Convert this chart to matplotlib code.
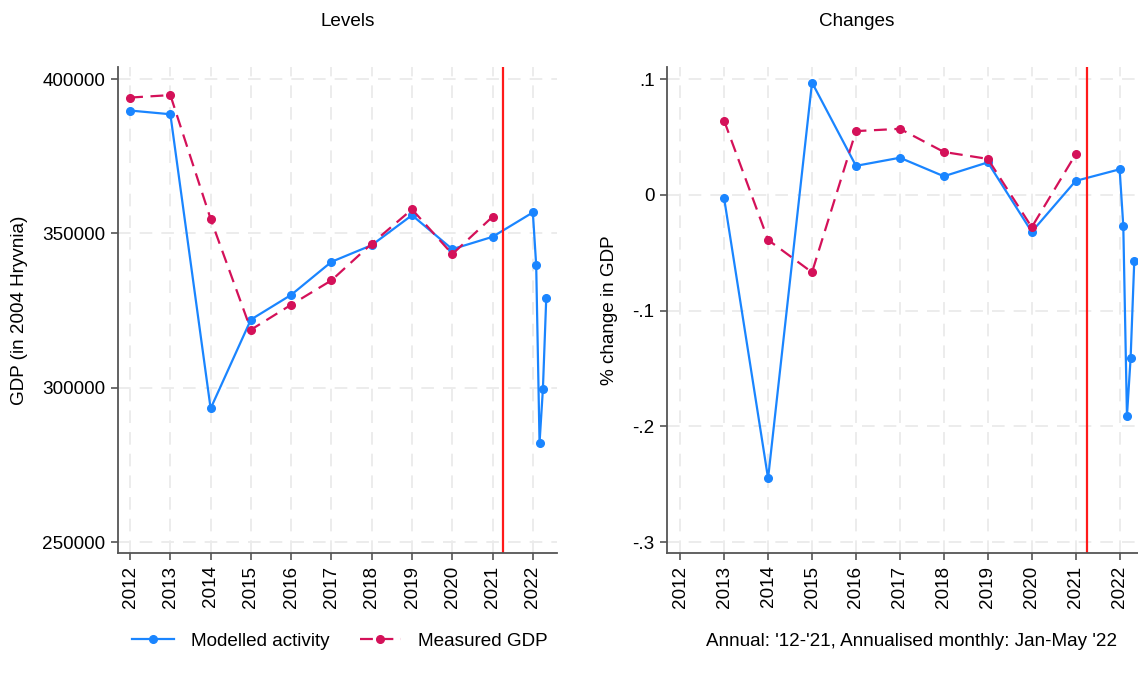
import numpy as np
import matplotlib.pyplot as plt
from matplotlib.lines import Line2D
from matplotlib.ticker import FuncFormatter

plt.rcParams['font.family'] = ['Liberation Sans', 'DejaVu Sans']
plt.rcParams['font.size'] = 13.6

# Annual data 2012-2021, monthly Jan-May 2022
years = [2012, 2013, 2014, 2015, 2016, 2017, 2018, 2019, 2020, 2021]
months_2022 = [1, 2, 3, 4, 5]

levels_modelled = [389800, 388600, 293300, 322100, 330100, 340800, 346200, 355900, 344900, 348900]
levels_modelled_2022 = [356800, 339700, 282200, 299600, 329100]
levels_measured = [394000, 394800, 354700, 318800, 326900, 334800, 346700, 357800, 343300, 355400]

chg_years = [2013, 2014, 2015, 2016, 2017, 2018, 2019, 2020, 2021]
chg_modelled = [-0.003, -0.245, 0.097, 0.025, 0.032, 0.016, 0.028, -0.032, 0.012]
chg_modelled_2022 = [0.022, -0.027, -0.191, -0.141, -0.057]
chg_measured = [0.064, -0.039, -0.067, 0.055, 0.057, 0.037, 0.031, -0.028, 0.035]

war_line = 2021.25

blue = '#1a85ff'
red = '#d41159'
grid_col = '#ebebeb'
axis_col = '#555555'
fs = 13.6

W, H = 1138, 682
fig = plt.figure(figsize=(W / 100, H / 100), dpi=100)

def px_axes(x0, x1, y0, y1):
    return fig.add_axes([x0 / W, 1 - y1 / H, (x1 - x0) / W, (y1 - y0) / H])

ax1 = px_axes(118, 557, 67, 553)
ax2 = px_axes(667, 1146, 67, 553)

# monthly points sit at 1/12-year steps after Jan 2022
month_x = [2022 + (m - 1) / 12 for m in months_2022]

def style(ax, yticks, fmt):
    ax.set_xlim(2011.70, 2022.60)
    ax.set_xticks(years + [2022])
    ax.set_xticklabels([str(y) for y in years + [2022]], rotation=90)
    ax.set_yticks(yticks)
    ax.yaxis.set_major_formatter(FuncFormatter(fmt))
    ax.grid(True, color=grid_col, linestyle=(0, (7, 5)), linewidth=1.3)
    ax.set_axisbelow(True)
    for s in ['top', 'right']:
        ax.spines[s].set_visible(False)
    for s in ['left', 'bottom']:
        ax.spines[s].set_color(axis_col)
        ax.spines[s].set_linewidth(1.3)
    ax.tick_params(direction='out', length=5, width=1.2, color=axis_col, labelsize=fs, pad=4)

# Levels
ax1.plot(years + month_x, levels_modelled + levels_modelled_2022, color=blue, lw=1.6,
         marker='o', ms=5.5)
ax1.plot(years, levels_measured, color=red, lw=1.6, dashes=(5.8, 3.4), marker='o', ms=5.5)
ax1.axvline(war_line, color='#ff1a1a', lw=1.6)
ax1.set_ylim(246500, 403900)
style(ax1, [250000, 300000, 350000, 400000], lambda v, p: f'{int(v)}')
ax1.set_ylabel('GDP (in 2004 Hryvnia)', labelpad=10, fontsize=fs)

# Changes
def fmt_chg(v, p):
    if abs(v) < 1e-9:
        return '0'
    return f'{v:.1f}'.replace('0.', '.')

ax2.plot(chg_years + month_x, chg_modelled + chg_modelled_2022, color=blue, lw=1.6,
         marker='o', ms=5.5)
ax2.plot(chg_years, chg_measured, color=red, lw=1.6, dashes=(5.8, 3.4), marker='o', ms=5.5)
ax2.axvline(war_line, color='#ff1a1a', lw=1.6)
ax2.set_ylim(-0.3095, 0.1104)
style(ax2, [-0.3, -0.2, -0.1, 0, 0.1], fmt_chg)
ax2.set_ylabel('% change in GDP', labelpad=10, fontsize=fs)

fig.text(348 / W, 1 - 21 / H, 'Levels', ha='center', va='center', fontsize=fs)
fig.text(857 / W, 1 - 21 / H, 'Changes', ha='center', va='center', fontsize=fs)

handles = [
    Line2D([], [], color=blue, lw=1.6, marker='o', ms=5.5),
    Line2D([], [], color=red, lw=1.6, dashes=(5.8, 3.4), marker='o', ms=5.5),
]
fig.legend(handles, ['Modelled activity', 'Measured GDP'], loc='center',
           bbox_to_anchor=(340 / W, 1 - 641 / H), ncol=2, frameon=False,
           fontsize=fs, handlelength=2.2, handletextpad=0.9, columnspacing=1.6)

fig.text(912 / W, 1 - 641 / H, "Annual: '12-'21, Annualised monthly: Jan-May '22",
         ha='center', va='center', fontsize=fs)

fig.savefig('out.png', dpi=100)
